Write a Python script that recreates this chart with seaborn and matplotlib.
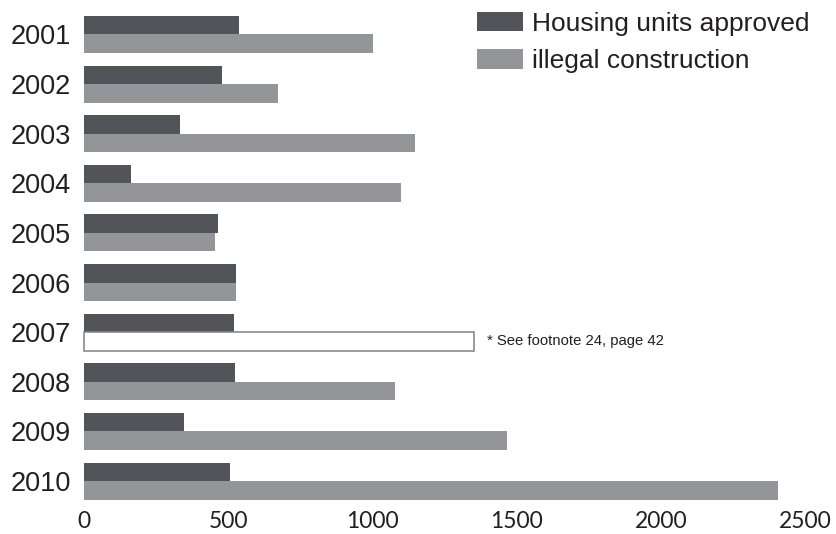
import matplotlib
matplotlib.use("Agg")
import matplotlib.pyplot as plt
import seaborn as sns
import pandas as pd
from matplotlib.patches import Patch

years = ["2001", "2002", "2003", "2004", "2005", "2006", "2007", "2008", "2009", "2010"]
approved = [537, 479, 333, 163, 465, 527, 520, 524, 347, 506]
illegal = [1002, 673, 1148, 1099, 454, 527, 1352, 1078, 1467, 2406]
series = ["Housing units approved", "illegal construction"]
x_ticks = [0, 500, 1000, 1500, 2000, 2500]
footnote = "* See footnote 24, page 42"
footnote_year = "2007"

dark = "#535459"
light = "#939598"
text_col = "#231f20"

df = pd.DataFrame({
    "year": years * 2,
    "value": approved + illegal,
    "series": [series[0]] * len(years) + [series[1]] * len(years),
})

sns.set_theme(style="white")
plt.rcParams["font.family"] = ["Liberation Sans", "DejaVu Sans"]

W, H = 836, 534
fig = plt.figure(figsize=(W / 100, H / 100), dpi=100)
fig.patch.set_facecolor("white")

# axes placement in pixels
left_px, right_px = 83, 836
top_px, bot_px = 4.7, 510.8
ax = fig.add_axes([left_px / W, 1 - bot_px / H, (right_px - left_px) / W, (bot_px - top_px) / H])

sns.barplot(data=df, x="value", y="year", hue="series", hue_order=series,
            palette=[dark, light], orient="h", width=0.746, gap=0,
            linewidth=0, edgecolor="none", legend=False, ax=ax, saturation=1)

# x scale: 0 at ~84px, 2500 at ~805px
slope = (805 - 84) / 2500
ax.set_xlim(-(84 - left_px) / slope, (right_px - 84) / slope)
ax.set_ylim(9.6, -0.6)

# special 2007 illegal bar
idx = years.index(footnote_year)
bar = ax.containers[1][idx]
bar.set_facecolor("white")
bar.set_edgecolor("#8a8a8a")
bar.set_linewidth(1.2)
bx = bar.get_x() + bar.get_width()
by = bar.get_y() + bar.get_height() / 2
ax.annotate(footnote, xy=(bx, by), xytext=(9.5, 0), textcoords="offset points",
            va="center", ha="left", fontsize=10.7, color=text_col)

for s in ax.spines.values():
    s.set_visible(False)
ax.set_xlabel("")
ax.set_ylabel("")
ax.set_xticks(x_ticks)
ax.set_xticklabels([str(t) for t in x_ticks], fontsize=16.5, color=text_col, family=["Lato", "DejaVu Sans"])
ax.set_yticks(range(len(years)))
ax.set_yticklabels(years, fontsize=19.5, color=text_col)
ax.tick_params(axis="x", length=0, pad=0)
ax.tick_params(axis="y", length=0, pad=8.5)
ax.grid(False)

handles = [Patch(facecolor=dark, edgecolor="none"), Patch(facecolor=light, edgecolor="none")]
leg = fig.legend(handles, series, loc="upper left",
                 bbox_to_anchor=(477 / W, 1 - 12 / H), frameon=False,
                 fontsize=19, handlelength=1.74, handleheight=0.74,
                 handletextpad=0.34, labelspacing=0.5, borderpad=0, borderaxespad=0)
for t in leg.get_texts():
    t.set_color(text_col)

fig.savefig("out.png", dpi=100, facecolor="white")
